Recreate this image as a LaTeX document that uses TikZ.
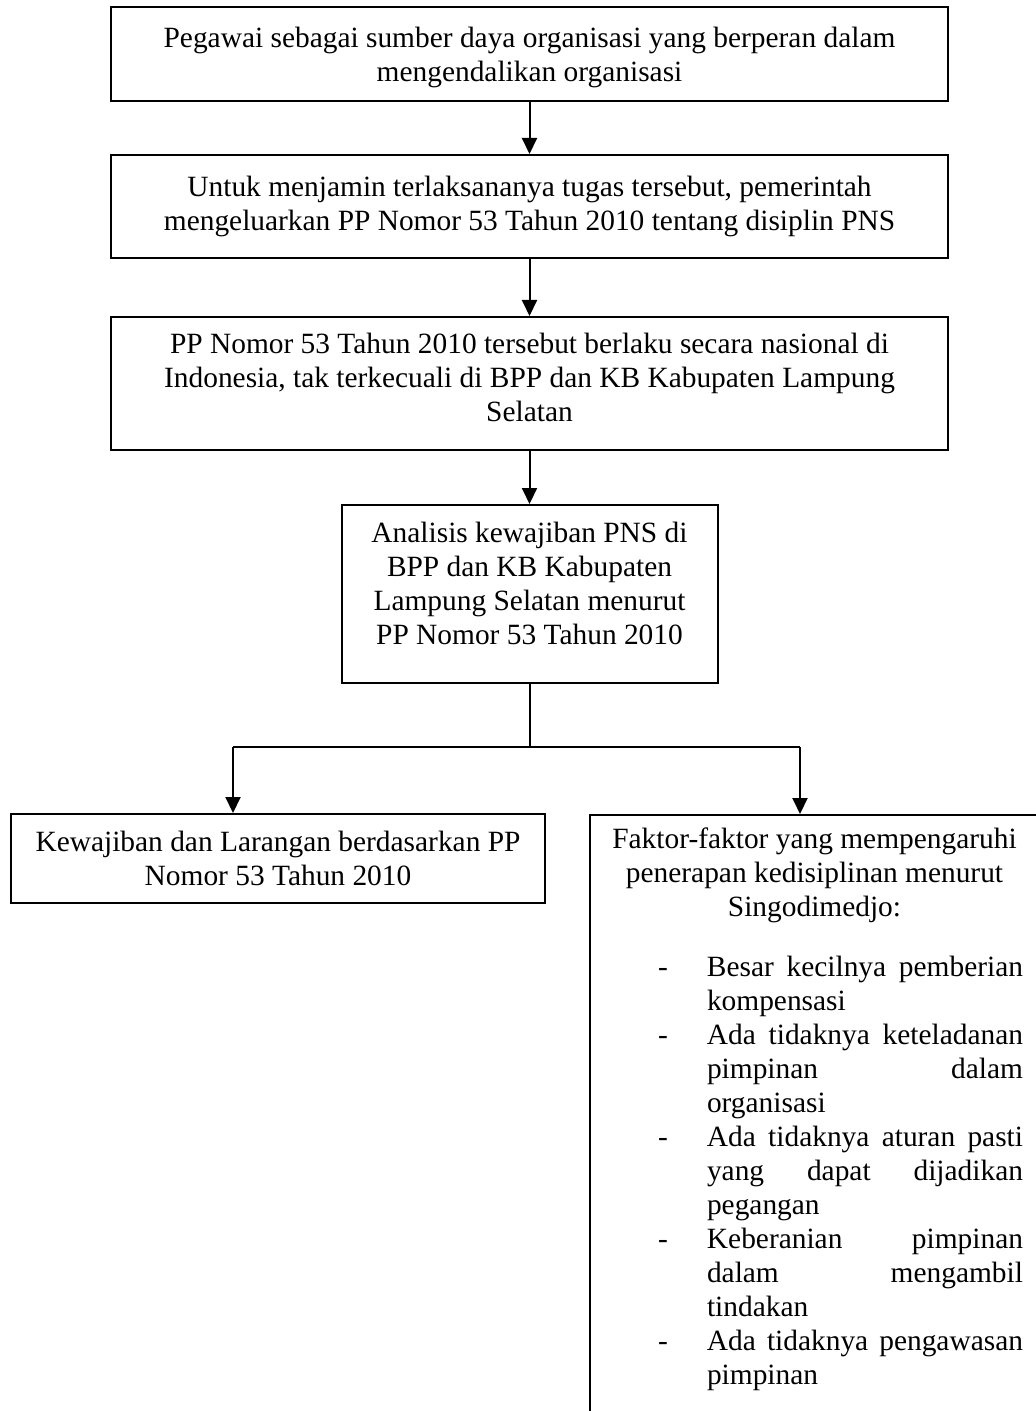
\documentclass[tikz,border=0pt]{standalone}
\usepackage{fontspec}
\setmainfont{Liberation Serif}
\usetikzlibrary{arrows.meta}

\hbadness=10000
\newcommand{\butir}[1]{\par\hangindent=50.5pt\hangafter=1\makebox[50.5pt][l]{\hspace{26pt}-}#1\par}

\tikzset{
  kotak/.style={draw, line width=1pt, align=center, inner sep=0pt, font=\fontsize{14.7pt}{17pt}\selectfont},
  panah/.style={line width=1pt, -{Triangle[length=8pt,width=7.5pt]}},
  garis/.style={line width=1pt},
}

\begin{document}
\begin{tikzpicture}[x=0.5pt,y=-0.5pt]
\useasboundingbox (0,0) rectangle (1035,1411);

\node[kotak, minimum width=418.5pt, minimum height=47pt, text depth=0pt] (pegawai) at (529.5,54)
  {Pegawai sebagai sumber daya organisasi yang berperan dalam\\ mengendalikan organisasi};
\node[kotak, minimum width=418.5pt, minimum height=51.5pt] (menjamin) at (529.5,206.5)
  {Untuk menjamin terlaksananya tugas tersebut, pemerintah\\ mengeluarkan PP Nomor 53 Tahun 2010 tentang disiplin PNS};
\node[kotak, minimum width=418.5pt, minimum height=66.5pt, text depth=6pt] (berlaku) at (529.5,383.5)
  {PP Nomor 53 Tahun 2010 tersebut berlaku secara nasional di\\ Indonesia, tak terkecuali di BPP dan KB Kabupaten Lampung\\ Selatan};
\node[kotak, minimum width=188pt, minimum height=89pt, text depth=11pt] (analisis) at (529.5,594)
  {Analisis kewajiban PNS di\\ BPP dan KB Kabupaten\\ Lampung Selatan menurut\\ PP Nomor 53 Tahun 2010};
\node[kotak, minimum width=267pt, minimum height=44.5pt] (kewajiban) at (278,858.5)
  {Kewajiban dan Larangan berdasarkan PP\\ Nomor 53 Tahun 2010};
\node[kotak, anchor=north west, inner xsep=8pt, inner ysep=5pt] (faktor) at (589,814)
  {\parbox[t]{222pt}{\centering\rightskip=13.5pt plus 1fil
    \strut Faktor-faktor yang mempengaruhi\\ penerapan kedisiplinan menurut\\ Singodimedjo:\par
    \vspace{13pt}
    \parindent=0pt \leftskip=0pt \rightskip=13.5pt \parfillskip=0pt plus 1fil
    \butir{Besar kecilnya pemberian\linebreak kompensasi}
    \butir{Ada tidaknya keteladanan\linebreak pimpinan dalam\linebreak organisasi}
    \butir{Ada tidaknya aturan pasti\linebreak yang dapat dijadikan\linebreak pegangan}
    \butir{Keberanian pimpinan\linebreak dalam mengambil\linebreak tindakan}
    \butir{Ada tidaknya pengawasan\linebreak pimpinan}
    \vspace{30pt}\null}};

\coordinate (cabang) at (529.5,747);
\coordinate (cabangkiri) at (233,747);
\coordinate (cabangkanan) at (800,747);

\draw[panah] (pegawai) -- (menjamin);
\draw[panah] (menjamin) -- (berlaku);
\draw[panah] (berlaku) -- (analisis);
\draw[garis] (analisis.south) -- (cabang);
\draw[garis] (cabangkiri) -- (cabangkanan);
\draw[panah] (cabangkiri) -- (cabangkiri |- kewajiban.north);
\draw[panah] (cabangkanan) -- (cabangkanan |- faktor.north);
\end{tikzpicture}
\end{document}
